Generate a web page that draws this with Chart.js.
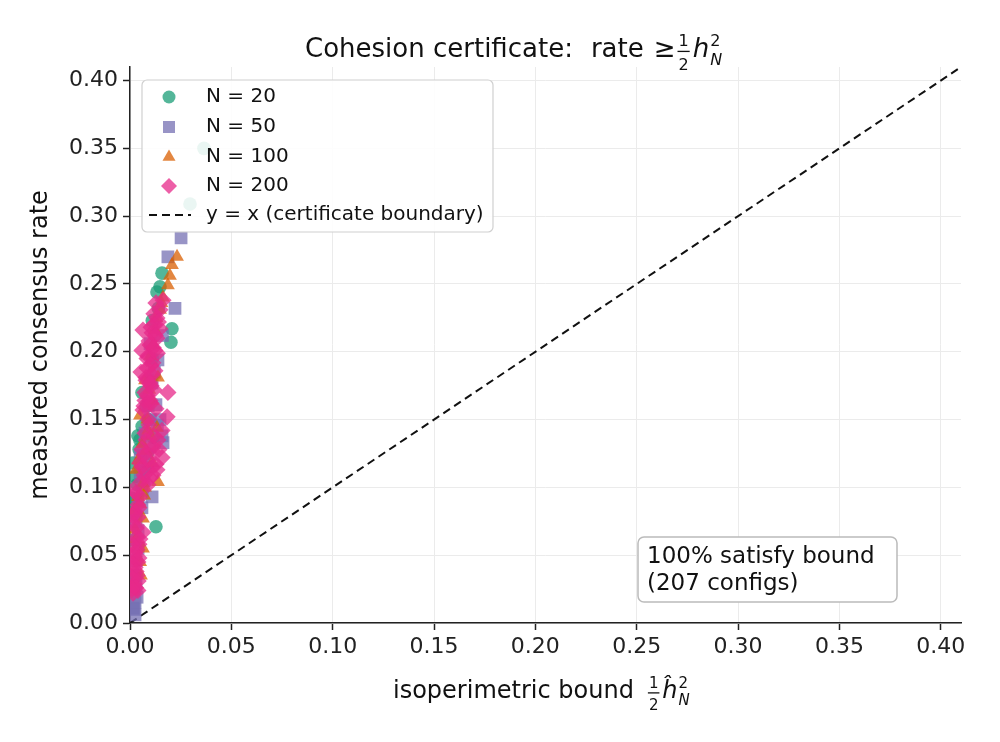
<!DOCTYPE html>
<html>
<head>
<meta charset="utf-8">
<script src="https://cdn.jsdelivr.net/npm/chart.js@4"></script>
<style>
  html, body { margin: 0; padding: 0; background: #fff; }
  #wrap { width: 1000px; height: 742px; }
</style>
</head>
<body>
<div id="wrap"><canvas id="cohesionChart" width="1000" height="742"></canvas></div>
<script>
// measured points
const n20X = [0.0365, 0.0296, 0.0158, 0.0148, 0.0133, 0.0207, 0.0202, 0.0059, 0.0039, 0.0049,
              0.0015, 0.0035, 0.0015, 0.0128, 0.0090, 0.0100, 0.0074, 0.0020, 0.0030, 0.0110,
              0.0113, 0.0045, 0.0080, 0.0060, 0.0025, 0.0110, 0.0140, 0.0030, 0.0010, 0.0085];
const n20Y = [0.350, 0.309, 0.258, 0.248, 0.244, 0.217, 0.207, 0.170, 0.138, 0.135,
              0.118, 0.102, 0.088, 0.071, 0.150, 0.179, 0.113, 0.061, 0.035, 0.223,
              0.137, 0.128, 0.160, 0.145, 0.108, 0.195, 0.232, 0.080, 0.092, 0.125];

const n50X = [0.0252, 0.0187, 0.0222, 0.0099, 0.0109, 0.0074, 0.0158, 0.0163, 0.0089, 0.0109,
              0.0039, 0.0059, 0.0035, 0.0025, 0.0015, 0.0020, 0.0030, 0.0040, 0.0050, 0.0128,
              0.0138, 0.0148, 0.0069, 0.0099, 0.0050, 0.0120, 0.0090, 0.0160, 0.0070, 0.0030,
              0.0060, 0.0135, 0.0100, 0.0040, 0.0025, 0.0025, 0.0020, 0.0030];
const n50Y = [0.284, 0.270, 0.232, 0.206, 0.177, 0.140, 0.138, 0.133, 0.115, 0.093,
              0.091, 0.085, 0.019, 0.015, 0.011, 0.024, 0.046, 0.068, 0.124, 0.161,
              0.194, 0.150, 0.105, 0.130, 0.110, 0.185, 0.160, 0.212, 0.120, 0.075,
              0.098, 0.146, 0.150, 0.055, 0.035, 0.006, 0.010, 0.028];

const n100X = [0.0232, 0.0207, 0.0197, 0.0187, 0.0163, 0.0138, 0.0074, 0.0049, 0.0133, 0.0064,
               0.0138, 0.0049, 0.0064, 0.0064, 0.0074, 0.0039, 0.0099, 0.0123, 0.0079, 0.0030,
               0.0025, 0.0109, 0.0148, 0.0089, 0.0054, 0.0095, 0.0115, 0.0060, 0.0040, 0.0085,
               0.0030, 0.0050, 0.0110, 0.0070, 0.0130, 0.0155, 0.0100, 0.0020];
const n100Y = [0.270, 0.264, 0.256, 0.249, 0.240, 0.181, 0.179, 0.153, 0.144, 0.103,
               0.104, 0.088, 0.077, 0.055, 0.100, 0.093, 0.197, 0.216, 0.127, 0.113,
               0.069, 0.164, 0.231, 0.142, 0.035, 0.172, 0.205, 0.132, 0.120, 0.150,
               0.062, 0.045, 0.118, 0.094, 0.225, 0.236, 0.138, 0.083];

const n200X = [0.0163, 0.0148, 0.0133, 0.0118, 0.0148, 0.0109, 0.0133, 0.0099, 0.0123, 0.0089,
               0.0113, 0.0084, 0.0109, 0.0079, 0.0104, 0.0187, 0.0074, 0.0099, 0.0069, 0.0089,
               0.0183, 0.0074, 0.0158, 0.0109, 0.0158, 0.0059, 0.0109, 0.0049, 0.0113, 0.0138,
               0.0079, 0.0099, 0.0069, 0.0133, 0.0089, 0.0039, 0.0025, 0.0039, 0.0020, 0.0064,
               0.0030, 0.0044, 0.0035, 0.0020, 0.0039, 0.0025, 0.0035, 0.0020, 0.0039, 0.0015,
               0.0049, 0.0015, 0.0059, 0.0054, 0.0064, 0.0128, 0.0118, 0.0140, 0.0104, 0.0125,
               0.0094, 0.0115, 0.0135, 0.0084, 0.0104, 0.0123, 0.0079, 0.0099, 0.0118, 0.0084,
               0.0104, 0.0064, 0.0128, 0.0094, 0.0074, 0.0118, 0.0143, 0.0059, 0.0089, 0.0128,
               0.0069, 0.0113, 0.0054, 0.0030, 0.0044, 0.0015, 0.0030, 0.0049, 0.0010, 0.0025,
               0.0044, 0.0012, 0.0030, 0.0040, 0.0012, 0.0028, 0.0010];
const n200Y = [0.238, 0.231, 0.225, 0.220, 0.217, 0.214, 0.210, 0.205, 0.201, 0.197,
               0.192, 0.188, 0.183, 0.179, 0.175, 0.170, 0.170, 0.164, 0.160, 0.150,
               0.152, 0.164, 0.142, 0.127, 0.122, 0.115, 0.115, 0.118, 0.130, 0.135,
               0.135, 0.107, 0.124, 0.113, 0.102, 0.087, 0.082, 0.078, 0.073, 0.067,
               0.063, 0.058, 0.054, 0.049, 0.045, 0.041, 0.035, 0.029, 0.024, 0.022,
               0.093, 0.098, 0.201, 0.185, 0.216, 0.236, 0.228, 0.222, 0.218, 0.212,
               0.208, 0.203, 0.199, 0.195, 0.190, 0.186, 0.181, 0.177, 0.172, 0.168,
               0.162, 0.157, 0.158, 0.146, 0.140, 0.138, 0.128, 0.128, 0.120, 0.117,
               0.109, 0.109, 0.104, 0.096, 0.085, 0.079, 0.070, 0.062, 0.058, 0.052,
               0.048, 0.044, 0.038, 0.031, 0.033, 0.026, 0.025];

const diagX = [0, 0.41];
const diagY = [0, 0.41];

const axisMax = 0.41;
const tickStep = 0.05;

const seriesLabels = ['N = 20', 'N = 50', 'N = 100', 'N = 200'];
const diagLabel = 'y = x (certificate boundary)';
const noteLines = ['100% satisfy bound', '(207 configs)'];

const FONT = '"DejaVu Sans", "Liberation Sans", sans-serif';

function pairs(xs, ys) {
    return xs.map((x, i) => ({ x: x, y: ys[i] }));
}

const series = [
    { label: seriesLabels[0], xs: n20X, ys: n20Y, color: 'rgba(27,158,119,0.75)', style: 'circle', r: 6.8, order: 3 },
    { label: seriesLabels[1], xs: n50X, ys: n50Y, color: 'rgba(117,112,179,0.75)', style: 'rect', r: 9, order: 2 },
    { label: seriesLabels[2], xs: n100X, ys: n100Y, color: 'rgba(217,95,2,0.75)', style: 'triangle', r: 8, order: 1 },
    { label: seriesLabels[3], xs: n200X, ys: n200Y, color: 'rgba(231,41,138,0.75)', style: 'rectRot', r: 8.6, order: 0 }
];

const datasets = series.map(s => ({
    label: s.label,
    data: pairs(s.xs, s.ys),
    pointStyle: s.style,
    pointRadius: s.r,
    pointBackgroundColor: s.color,
    pointBorderWidth: 0,
    pointBorderColor: 'rgba(0,0,0,0)',
    showLine: false,
    order: s.order
}));

datasets.push({
    label: diagLabel,
    type: 'line',
    data: pairs(diagX, diagY),
    borderColor: '#111',
    borderWidth: 2,
    borderDash: [8, 5],
    pointRadius: 0,
    fill: false,
    order: 5
});

// small marker drawer for the hand-made legend
function marker(ctx, style, x, y, r, color) {
    ctx.save();
    ctx.fillStyle = color;
    ctx.beginPath();
    if (style === 'circle') {
        ctx.arc(x, y, r, 0, Math.PI * 2);
    } else if (style === 'rect') {
        const h = r * Math.SQRT1_2;
        ctx.rect(x - h, y - h, 2 * h, 2 * h);
    } else if (style === 'triangle') {
        for (let k = 0; k < 3; k++) {
            const a = k * 2 * Math.PI / 3;
            const px = x + Math.sin(a) * r, py = y - Math.cos(a) * r;
            if (k === 0) ctx.moveTo(px, py); else ctx.lineTo(px, py);
        }
        ctx.closePath();
    } else {
        ctx.moveTo(x, y - r); ctx.lineTo(x + r, y); ctx.lineTo(x, y + r); ctx.lineTo(x - r, y);
        ctx.closePath();
    }
    ctx.fill();
    ctx.restore();
}

function roundBox(ctx, x, y, w, h, rad) {
    ctx.beginPath();
    ctx.moveTo(x + rad, y);
    ctx.arcTo(x + w, y, x + w, y + h, rad);
    ctx.arcTo(x + w, y + h, x, y + h, rad);
    ctx.arcTo(x, y + h, x, y, rad);
    ctx.arcTo(x, y, x + w, y, rad);
    ctx.closePath();
}

// draws  (1/2) h^2_N  after x, returns the end x
function halfHSquared(ctx, x, base, fs, hat) {
    const sfs = Math.round(fs * 0.63);
    ctx.textBaseline = 'alphabetic';
    ctx.font = sfs + 'px ' + FONT;
    const fw = ctx.measureText('2').width + 2;
    ctx.textAlign = 'center';
    ctx.fillText('1', x + fw / 2, base - 0.42 * fs);
    ctx.fillText('2', x + fw / 2, base + 0.5 * fs);
    ctx.fillRect(x, base - 0.24 * fs, fw, 1.3);
    x += fw + 0.12 * fs;
    ctx.textAlign = 'left';
    ctx.font = 'italic ' + fs + 'px ' + FONT;
    const h = hat ? 'ĥ' : 'h';
    ctx.fillText(h, x, base);
    x += ctx.measureText(h).width + 0.04 * fs;
    ctx.font = sfs + 'px ' + FONT;
    ctx.fillText('2', x, base - 0.42 * fs);
    ctx.font = 'italic ' + sfs + 'px ' + FONT;
    ctx.fillText('N', x, base + 0.3 * fs);
    return x + ctx.measureText('N').width;
}

const decorPlugin = {
    id: 'decor',
    afterDraw(chart) {
        const ctx = chart.ctx;
        ctx.save();
        ctx.fillStyle = '#111';

        // title
        const tfs = 26;
        ctx.font = tfs + 'px ' + FONT;
        ctx.textAlign = 'left';
        ctx.textBaseline = 'alphabetic';
        let tx = 305;
        const tb = 57;
        ctx.fillText('Cohesion certificate:', tx, tb);
        tx += ctx.measureText('Cohesion certificate:').width + 18;
        ctx.fillText('rate', tx, tb);
        tx += ctx.measureText('rate').width + 10;
        ctx.fillText('\u2265', tx, tb);
        tx += ctx.measureText('\u2265').width + 2;
        halfHSquared(ctx, tx, tb, tfs, false);

        // x axis label
        ctx.font = '24px ' + FONT;
        let lx = 393;
        const lb = 698;
        ctx.fillText('isoperimetric bound', lx, lb);
        lx += ctx.measureText('isoperimetric bound').width + 14;
        halfHSquared(ctx, lx, lb, 24, true);

        // legend
        const lgX = 142, lgY = 80, lgW = 351, lgH = 152;
        roundBox(ctx, lgX, lgY, lgW, lgH, 5);
        ctx.fillStyle = 'rgba(255,255,255,0.88)';
        ctx.fill();
        ctx.strokeStyle = '#d0d0d0';
        ctx.lineWidth = 1.2;
        ctx.stroke();
        const rowY = [97, 127, 157, 186, 215];
        const legR = [6.5, 8.5, 7.5, 8];
        series.forEach((s, i) => marker(ctx, s.style, 169, rowY[i], legR[i], s.color));
        ctx.strokeStyle = '#111';
        ctx.lineWidth = 2;
        ctx.setLineDash([8, 5]);
        ctx.beginPath();
        ctx.moveTo(149, rowY[4]);
        ctx.lineTo(191, rowY[4]);
        ctx.stroke();
        ctx.setLineDash([]);
        ctx.fillStyle = '#111';
        ctx.font = '20px ' + FONT;
        ctx.textBaseline = 'middle';
        seriesLabels.forEach((t, i) => ctx.fillText(t, 206, rowY[i]));
        ctx.fillText(diagLabel, 206, rowY[4]);

        // note box
        roundBox(ctx, 638, 537, 259, 65, 6);
        ctx.fillStyle = '#fff';
        ctx.fill();
        ctx.strokeStyle = '#bbbbbb';
        ctx.lineWidth = 1.5;
        ctx.stroke();
        ctx.fillStyle = '#111';
        ctx.font = '23px ' + FONT;
        ctx.textBaseline = 'alphabetic';
        ctx.fillText(noteLines[0], 647, 563);
        ctx.fillText(noteLines[1], 647, 590);

        ctx.restore();
    }
};

function keepStepTicks(axis) {
    axis.ticks = axis.ticks.filter(t => Math.abs(t.value / tickStep - Math.round(t.value / tickStep)) < 1e-6);
}

const tickFont = { family: FONT, size: 22 };
const gridOpts = { color: '#ebebeb', lineWidth: 1, tickLength: 7, tickColor: '#222', tickWidth: 1.5 };
const borderOpts = { display: true, color: '#222', width: 1.5 };

new Chart(document.getElementById('cohesionChart'), {
    type: 'scatter',
    data: { datasets: datasets },
    options: {
        responsive: false,
        animation: false,
        events: [],
        layout: { padding: { left: 0, right: 39, top: 67, bottom: 0 } },
        plugins: {
            legend: { display: false },
            tooltip: { enabled: false },
            title: { display: false }
        },
        scales: {
            x: {
                type: 'linear',
                min: 0,
                max: axisMax,
                ticks: { stepSize: tickStep, includeBounds: false, font: tickFont, color: '#222',
                         padding: 4, maxRotation: 0, callback: v => v.toFixed(2) },
                grid: gridOpts,
                border: borderOpts,
                afterBuildTicks: keepStepTicks,
                afterFit: s => { s.height = 119; }
            },
            y: {
                type: 'linear',
                min: 0,
                max: axisMax,
                ticks: { stepSize: tickStep, includeBounds: false, font: tickFont, color: '#222',
                         padding: 5, callback: v => v.toFixed(2) },
                grid: gridOpts,
                border: borderOpts,
                title: { display: true, text: 'measured consensus rate', color: '#111',
                         font: { family: FONT, size: 24 }, padding: { top: 26, bottom: 0 } },
                afterBuildTicks: keepStepTicks,
                afterFit: s => { s.width = 130; }
            }
        }
    },
    plugins: [decorPlugin]
});
</script>
</body>
</html>
